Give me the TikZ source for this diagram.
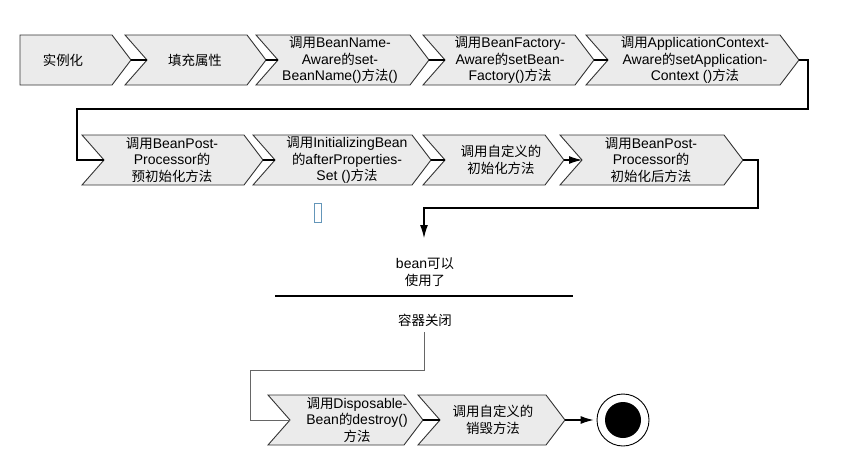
\documentclass[tikz,border=0pt]{standalone}
\usepackage{fontspec}
\setmainfont{Liberation Sans}
\newfontfamily\cjk{Noto Sans CJK SC}[Scale=0.96]
\usetikzlibrary{arrows.meta}
\definecolor{boxblue}{RGB}{100,150,185}
\newcommand\zh[1]{{\cjk #1}}
% #1 name, #2 left x, #3 top-right x, #4 mid y, #5 notch depth, #6 text x, #7 text
\newcommand\chev[7]{%
  \draw[chevbox] (#2,#4-25) -- (#3,#4-25) -- (#3+19,#4) -- (#3,#4+25) -- (#2,#4+25) -- (#2+#5,#4) -- cycle;
  \coordinate (#1tip) at (#3+19,#4);
  \coordinate (#1notch) at (#2+#5,#4);
  \node[lbl] (#1) at (#6,#4) {#7};}
\begin{document}
\begin{tikzpicture}[x=1pt,y=-1pt,
  chevbox/.style={fill=black!8,draw=black!80,line width=0.9pt,line join=miter},
  lbl/.style={align=center,font=\fontsize{14}{16.5}\selectfont,inner sep=0pt},
  conn/.style={draw=black,line width=1.1pt},
  conngray/.style={draw=black!60,line width=1pt},
  arr/.style={conn,-{Latex[length=13pt,width=8pt]}}]
\useasboundingbox (0,0) rectangle (855,466);
% row 1
\chev{sa}{20}{112}{60}{0}{63}{\zh{实例化}}
\chev{sb}{125}{247}{60}{22}{195}{\zh{填充属性}}
\chev{sc}{256}{410}{60}{22}{340}{\zh{调用}BeanName-\\Aware\zh{的}set-\\BeanName()\zh{方法}()}
\chev{sd}{423}{575}{60}{22}{510}{\zh{调用}BeanFactory-\\Aware\zh{的}setBean-\\Factory()\zh{方法}}
\chev{se}{586}{780}{60}{22}{695}{\zh{调用}ApplicationContext-\\Aware\zh{的}setApplication-\\Context ()\zh{方法}}
% row 2
\chev{sf}{82}{244}{160}{22}{172}{\zh{调用}BeanPost-\\Processor\zh{的}\\\zh{预初始化方法}}
\chev{sg}{253}{412}{160}{22}{347}{\zh{调用}InitializingBean\\\zh{的}afterProperties-\\Set ()\zh{方法}}
\chev{sh}{423}{545}{160}{22}{501}{\zh{调用自定义的}\\\zh{初始化方法}}
\chev{si}{560}{724}{160}{22}{651}{\zh{调用}BeanPost-\\Processor\zh{的}\\\zh{初始化后方法}}
% row 3
\chev{sj}{268}{404}{420}{22}{357}{\zh{调用}Disposable-\\Bean\zh{的}destroy()\\\zh{方法}}
\chev{sk}{418}{546}{420}{22}{493}{\zh{调用自定义的}\\\zh{销毁方法}}
% connectors row 1
\draw[conn] (satip) -- (sbnotch);
\draw[conn] (sbtip) -- (scnotch);
\draw[conn] (sctip) -- (sdnotch);
\draw[conn] (sdtip) -- (senotch);
\coordinate (ba) at (808,60);
\coordinate (bb) at (808,109);
\coordinate (bc) at (77,109);
\coordinate (bd) at (77,160);
\draw[conn] (setip) -- (ba) -- (bb) -- (bc) -- (bd) -- (sfnotch);
% connectors row 2
\draw[conn] (sftip) -- (sgnotch);
\draw[conn] (sgtip) -- (shnotch);
\draw[arr] (shtip) -- (sinotch);
\coordinate (ca) at (758,160);
\coordinate (cb) at (758,208);
\coordinate (cc) at (424,208);
\coordinate (cd) at (424,238);
\draw[arr] (sitip) -- (ca) -- (cb) -- (cc) -- (cd);
% stray glyph box
\draw[boxblue,line width=1pt] (314,203) rectangle (321,222);
% middle
\node[lbl] (ready) at (425,272) {bean\zh{可以}\\\zh{使用了}};
\coordinate (barl) at (275,296);
\coordinate (barr) at (573,296);
\draw[conn] (barl) -- (barr);
\node[lbl] (close) at (425,320) {\zh{容器关闭}};
\coordinate (da) at (424,332);
\coordinate (db) at (424,370);
\coordinate (dc) at (250,370);
\coordinate (dd) at (250,420);
\draw[conngray] (da) -- (db) -- (dc) -- (dd) -- (sjnotch);
% row 3 connectors
\draw[conn] (sjtip) -- (sknotch);
\node[circle,draw=black,line width=0.9pt,minimum size=52pt,inner sep=0pt,fill=white] (endc) at (623,420) {};
\fill[black] (endc.center) circle (18pt);
\draw[arr,shorten >=3pt] (sktip) -- (endc.west);
\end{tikzpicture}
\end{document}
